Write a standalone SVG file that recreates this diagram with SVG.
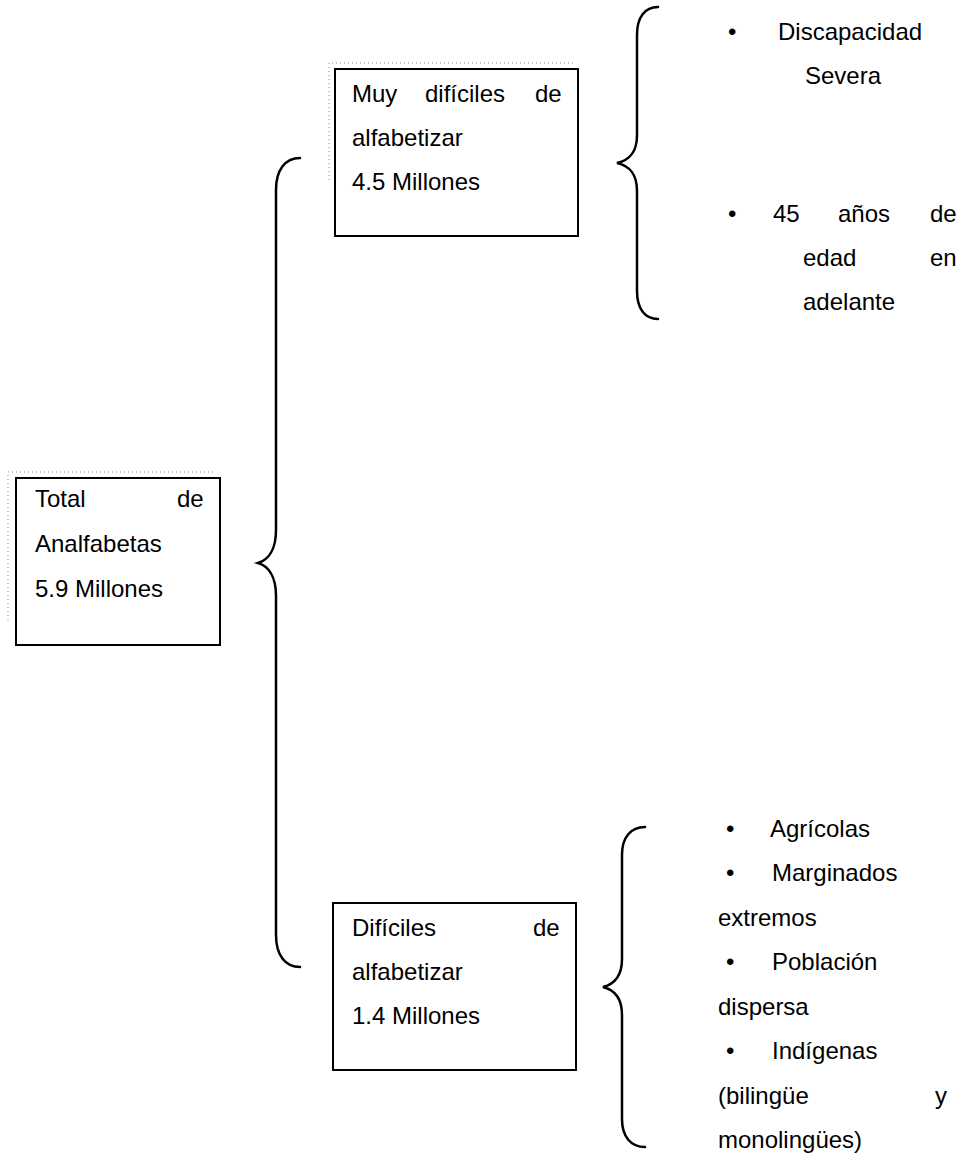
<svg xmlns="http://www.w3.org/2000/svg" width="962" height="1162" viewBox="0 0 962 1162">
<style>
.box{fill:#fff;stroke:#000;stroke-width:2}
.shadow{fill:none;stroke:#b0b0b0;stroke-width:1.5;stroke-dasharray:1 3}
.brace{fill:none;stroke:#000;stroke-width:2.5;stroke-linecap:round}
text{font-family:"Liberation Sans",Arial,sans-serif;font-size:24px;fill:#000}
</style>
<rect width="962" height="1162" fill="#fff"/>
<g id="connectors">
<path class="brace" d="M300,158 C285,158 276,170 276,190 L276,530 C276,550 268,560 258,563 C268,566 276,576 276,596 L276,935 C276,955 285,967 300,967"/>
<path class="brace" d="M658,7 C645,7 637,17 637,35 L637,135 C637,152 630,160 617,163 C630,166 637,174 637,191 L637,291 C637,309 645,319 658,319"/>
<path class="brace" d="M645,827 C631,827 622,837 622,855 L622,959 C622,976 615,984 603,987 C615,990 622,998 622,1015 L622,1119 C622,1137 631,1147 645,1147"/>
</g>
<g id="node-total">
<path class="shadow" d="M8,620 L8,472 L216,472"/>
<rect class="box" x="16" y="478" width="204" height="167"/>
<text x="35" y="507">Total</text><text x="177" y="507">de</text>
<text x="35" y="552">Analfabetas</text>
<text x="35" y="597">5.9 Millones</text>
</g>
<g id="node-muy-dificiles">
<path class="shadow" d="M329,180 L329,63 L575,63"/>
<rect class="box" x="335" y="69" width="243" height="167"/>
<text x="352" y="102">Muy</text><text x="425" y="102">difíciles</text><text x="535" y="102">de</text>
<text x="352" y="146">alfabetizar</text>
<text x="352" y="190">4.5 Millones</text>
</g>
<g id="node-dificiles">
<rect class="box" x="333" y="903" width="243" height="167"/>
<text x="352" y="936">Difíciles</text><text x="533" y="936">de</text>
<text x="352" y="980">alfabetizar</text>
<text x="352" y="1024">1.4 Millones</text>
</g>
<g id="list-muy-dificiles">
<text x="728" y="40">•</text><text x="778" y="40">Discapacidad</text>
<text x="805" y="84">Severa</text>
<text x="728" y="222">•</text><text x="773" y="222">45</text><text x="838" y="222">años</text><text x="930" y="222">de</text>
<text x="803" y="266">edad</text><text x="930" y="266">en</text>
<text x="803" y="310">adelante</text>
</g>
<g id="list-dificiles">
<text x="726" y="837">•</text><text x="770" y="837">Agrícolas</text>
<text x="726" y="881">•</text><text x="772" y="881">Marginados</text>
<text x="718" y="926">extremos</text>
<text x="726" y="970">•</text><text x="772" y="970">Población</text>
<text x="718" y="1015">dispersa</text>
<text x="726" y="1059">•</text><text x="772" y="1059">Indígenas</text>
<text x="718" y="1104">(bilingüe</text><text x="935" y="1104">y</text>
<text x="718" y="1148">monolingües)</text>
</g>
</svg>
